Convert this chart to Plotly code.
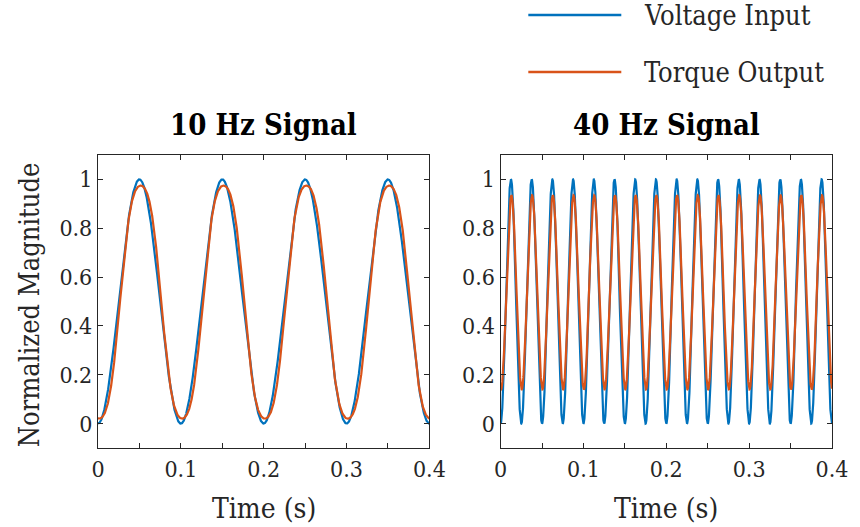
import numpy as np
import plotly.graph_objects as go

# Panel set-up: one panel per drive frequency
PANEL_TITLES = ["10 Hz Signal", "40 Hz Signal"]
FREQS_HZ = [10, 40]

# Voltage input levels (trough, peak) per panel
VOLT_MIN = [0.0, 0.0]
VOLT_MAX = [1.0, 1.0]

# Torque output levels, phase lag and waveform flattening per panel
TORQUE_MIN = [0.02, 0.14]
TORQUE_MAX = [0.975, 0.935]
TORQUE_LAG_S = [0.0015, 0.0005]
TORQUE_FLAT = [0.06, 0.0]

SERIES_NAMES = ["Voltage Input", "Torque Output"]
SERIES_COLORS = ["#0072BD", "#D95319"]

X_TICKS = [0, 0.05, 0.1, 0.15, 0.2, 0.25, 0.3, 0.35, 0.4]
X_TICK_TEXT = ["0", "", "0.1", "", "0.2", "", "0.3", "", "0.4"]
Y_TICKS = [0, 0.2, 0.4, 0.6, 0.8, 1.0]
Y_TICK_TEXT = ["0", "0.2", "0.4", "0.6", "0.8", "1"]

T_END = 0.4
N_SAMPLES = 4001

FONT = "DejaVu Serif Condensed, DejaVu Serif, serif"
AX_COLOR = "#262626"

W, H = 860, 527
M_L, M_R, M_T, M_B = 98, 20, 155, 79
PW, PH = W - M_L - M_R, H - M_T - M_B


def px_x(x):
    return (x - M_L) / PW


def px_y(y):
    return (H - M_B - y) / PH


def periodic_wave(t, freq, lo, hi, lag=0.0, flat=0.0):
    theta = 2 * np.pi * freq * (t - lag)
    x1 = -np.cos(theta)
    x3 = -np.cos(3 * theta)
    shape = (x1 - flat * x3) / (1 - flat)
    return (lo + hi) / 2 + (hi - lo) / 2 * shape


t = np.linspace(0, T_END, N_SAMPLES)

fig = go.Figure()
domains = [[0, px_x(433)], [px_x(505), 1]]

for i, f in enumerate(FREQS_HZ):
    xa = "x" if i == 0 else f"x{i + 1}"
    ya = "y" if i == 0 else f"y{i + 1}"
    v = periodic_wave(t, f, VOLT_MIN[i], VOLT_MAX[i])
    q = periodic_wave(t, f, TORQUE_MIN[i], TORQUE_MAX[i],
                      TORQUE_LAG_S[i], TORQUE_FLAT[i])
    for name, y, c in zip(SERIES_NAMES, [v, q], SERIES_COLORS):
        fig.add_trace(go.Scatter(
            x=t, y=y, mode="lines", name=name, xaxis=xa, yaxis=ya,
            line=dict(color=c, width=2.2), showlegend=False,
            hoverinfo="skip"))

axis_common = dict(
    showline=True, linecolor=AX_COLOR, linewidth=1.2, mirror="ticks",
    ticks="inside", ticklen=5, tickwidth=1, tickcolor=AX_COLOR,
    showgrid=False, zeroline=False,
    tickfont=dict(family=FONT, size=23, color=AX_COLOR),
)

for i in range(2):
    sfx = "" if i == 0 else str(i + 1)
    fig.layout["xaxis" + sfx] = dict(
        axis_common, domain=domains[i], range=[0, T_END], anchor="y" + sfx,
        tickvals=X_TICKS, ticktext=X_TICK_TEXT)
    fig.layout["yaxis" + sfx] = dict(
        axis_common, domain=[0, 1], range=[-0.1, 1.1], anchor="x" + sfx,
        tickvals=Y_TICKS, ticktext=Y_TICK_TEXT)

annotations = []
for i, title in enumerate(PANEL_TITLES):
    cx = (domains[i][0] + domains[i][1]) / 2
    annotations.append(dict(
        text=f"<b>{title}</b>", x=cx, y=px_y(125), xref="paper",
        yref="paper", xanchor="center", yanchor="middle", showarrow=False,
        font=dict(family=FONT, size=29, color="black")))
    annotations.append(dict(
        text="Time (s)", x=cx, y=px_y(508), xref="paper", yref="paper",
        xanchor="center", yanchor="middle", showarrow=False,
        font=dict(family=FONT, size=28, color=AX_COLOR)))

annotations.append(dict(
    text="Normalized Magnitude", x=px_x(29), y=0.49, xref="paper",
    yref="paper", xanchor="center", yanchor="middle", textangle=-90,
    showarrow=False, font=dict(family=FONT, size=27, color=AX_COLOR)))

# Legend entries drawn as long line samples with labels
shapes = []
for k, (name, c) in enumerate(zip(SERIES_NAMES, SERIES_COLORS)):
    ly = 15 + 57 * k
    shapes.append(dict(
        type="line", xref="paper", yref="paper", x0=px_x(533), x1=px_x(627),
        y0=px_y(ly), y1=px_y(ly), line=dict(color=c, width=2.5)))
    annotations.append(dict(
        text=name, x=px_x(648), y=px_y(ly), xref="paper", yref="paper",
        xanchor="left", yanchor="middle", showarrow=False,
        font=dict(family=FONT, size=27, color=AX_COLOR)))

fig.update_layout(
    width=W, height=H,
    font=dict(family=FONT),
    margin=dict(l=M_L, r=M_R, t=M_T, b=M_B),
    paper_bgcolor="white", plot_bgcolor="white",
    annotations=annotations, shapes=shapes, showlegend=False,
)

fig.write_html("out.html")
